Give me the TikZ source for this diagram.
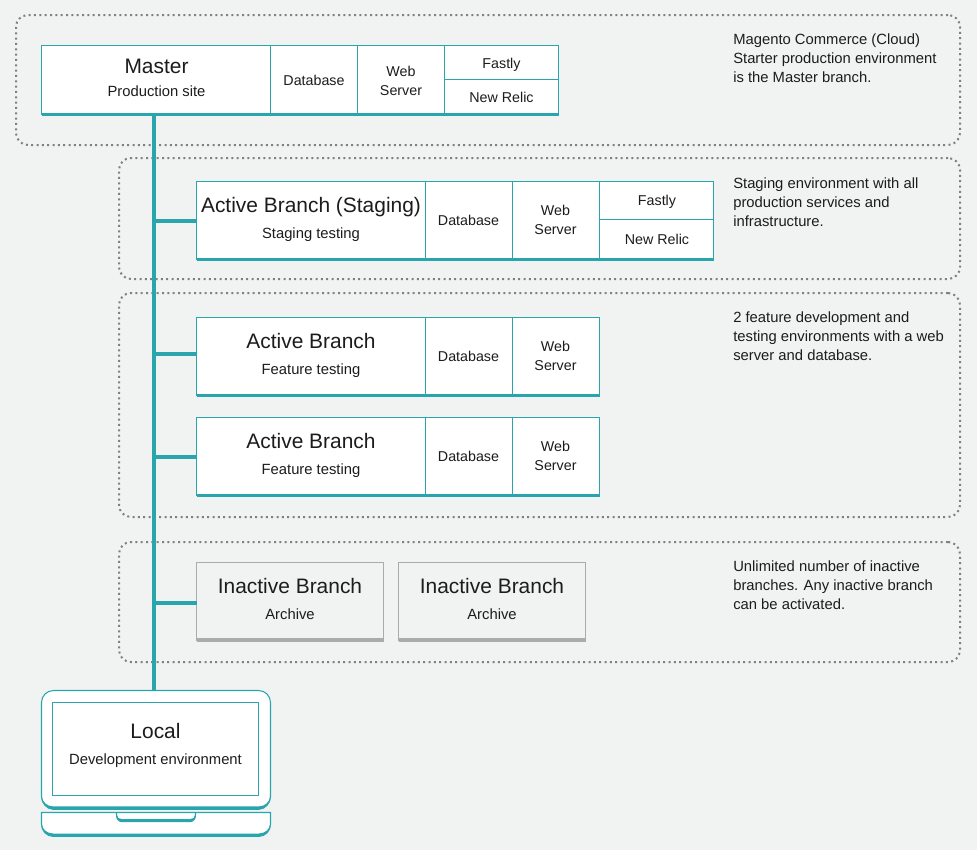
\documentclass[tikz,border=0pt]{standalone}
\usepackage{fontspec}
\setmainfont{Liberation Sans}
\definecolor{bgc}{HTML}{F1F3F2}
\definecolor{tealc}{HTML}{28A5AD}
\definecolor{grayb}{HTML}{ABABAB}
\definecolor{dotc}{HTML}{808080}
\definecolor{txt}{HTML}{1C1C1C}
\newcommand{\cellbox}[6][cell]{%
  \pgfmathsetmacro{\cw}{(#5-#3)*0.75}\pgfmathsetmacro{\ch}{(#6-#4)*0.75}%
  \node[#1,minimum width=\cw pt,minimum height=\ch pt] (#2) at ({(#3+#5)/2},{(#4+#6)/2}) {};}
\tikzset{
  x=0.75pt,y=-0.75pt,
  cell/.style={draw=tealc,fill=white,line width=0.8pt,inner sep=0pt,outer sep=0pt},
  graycell/.style={draw=grayb,fill=bgc,line width=0.8pt,inner sep=0pt,outer sep=0pt},
  group/.style={draw=dotc,line width=1.5pt,rounded corners=9pt,dash pattern=on 1.5pt off 2.5pt,inner sep=0pt},
  trunk/.style={draw=tealc,line width=3pt},
  branch/.style={draw=tealc,line width=3pt},
  bar/.style={draw=tealc,line width=2.6pt},
  graybar/.style={draw=grayb,line width=2.6pt},
  title/.style={font=\fontsize{15.7pt}{18pt}\selectfont,text=txt,inner sep=0pt,anchor=base},
  sub/.style={font=\fontsize{11.1pt}{13pt}\selectfont,text=txt,inner sep=0pt,anchor=base},
  lab/.style={font=\fontsize{10.7pt}{14.3pt}\selectfont,text=txt,inner sep=0pt,anchor=base},
  labs/.style={font=\fontsize{10.7pt}{14.3pt}\selectfont,text=txt,inner sep=0pt,align=center},
  note/.style={font=\fontsize{11.1pt}{14.25pt}\selectfont,text=txt,inner sep=0pt,align=left,anchor=north west},
  thick part/.style={fill=tealc,draw=none},
}
\begin{document}
\begin{tikzpicture}
\useasboundingbox[fill=bgc] (0,0) rectangle (977,850);
% groups
\node[group,minimum width=708pt,minimum height=97.5pt] (g1) at (488,80) {};
\node[group,minimum width=630.75pt,minimum height=90.75pt] (g2) at (539.5,218.5) {};
\node[group,minimum width=630.75pt,minimum height=168pt] (g3) at (539.5,405) {};
\node[group,minimum width=630.75pt,minimum height=90pt] (g4) at (539.5,602) {};
% laptop
\cellbox[cell,rounded corners=9pt]{laptop}{41.5}{690.5}{270.5}{808.5}
\fill[thick part] (41,796) .. controls (41,803) and (46.4,809.8) .. (53,809.8) -- (259,809.8) .. controls (265.6,809.8) and (271,803) .. (271,796) -- (270.2,796) .. controls (270.2,801.5) and (265,806.4) .. (259,806.4) -- (53,806.4) .. controls (47,806.4) and (41.8,801.5) .. (41.8,796) -- cycle;
\filldraw[tealc,fill=white,line width=0.8pt] (41.5,812.5) -- (270.5,812.5) -- (270.5,824) .. controls (270.5,830.5) and (265,835.5) .. (259,835.5) -- (53,835.5) .. controls (47,835.5) and (41.5,830.5) .. (41.5,824) -- cycle;
\fill[thick part] (41,824) .. controls (41,831) and (46.4,836.9) .. (53,836.9) -- (259,836.9) .. controls (265.6,836.9) and (271,831) .. (271,824) -- (270.2,824) .. controls (270.2,829) and (265,833.5) .. (259,833.5) -- (53,833.5) .. controls (47,833.5) and (41.8,829) .. (41.8,824) -- cycle;
\draw[tealc,line width=0.8pt] (116.5,812.5) -- (116.5,815) .. controls (116.5,819) and (119,821) .. (122,821) -- (190,821) .. controls (193,821) and (195.5,819) .. (195.5,815) -- (195.5,812.5);
\fill[thick part] (116.2,815) .. controls (116.2,820) and (119,822.2) .. (122,822.2) -- (190,822.2) .. controls (193,822.2) and (195.8,820) .. (195.8,815) -- (195,815) .. controls (195,818) and (193,819) .. (190,819) -- (122,819) .. controls (119,819) and (117,818) .. (117,815) -- cycle;
\cellbox{screen}{52.5}{702.5}{258.5}{795.5}
% master row
\cellbox{master}{41.5}{45.5}{270.5}{114.5}
\cellbox{mdb}{270.5}{45.5}{357.5}{114.5}
\cellbox{mweb}{357.5}{45.5}{444.5}{114.5}
\cellbox{mfast}{444.5}{45.5}{558.5}{79.5}
\cellbox{mrelic}{444.5}{79.5}{558.5}{114.5}
\draw[bar] (master.south west) -- (mrelic.south east);
% staging row
\cellbox{stag}{196.5}{181.5}{425.5}{259.5}
\cellbox{sdb}{425.5}{181.5}{512.5}{259.5}
\cellbox{sweb}{512.5}{181.5}{599.5}{259.5}
\cellbox{sfast}{599.5}{181.5}{713.5}{219.5}
\cellbox{srelic}{599.5}{219.5}{713.5}{259.5}
\draw[bar] (stag.south west) -- (srelic.south east);
% feature rows
\cellbox{fa}{196.5}{317.5}{425.5}{395.5}
\cellbox{fadb}{425.5}{317.5}{512.5}{395.5}
\cellbox{faweb}{512.5}{317.5}{599.5}{395.5}
\draw[bar] (fa.south west) -- (faweb.south east);
\cellbox{fb}{196.5}{417.5}{425.5}{495.5}
\cellbox{fbdb}{425.5}{417.5}{512.5}{495.5}
\cellbox{fbweb}{512.5}{417.5}{599.5}{495.5}
\draw[bar] (fb.south west) -- (fbweb.south east);
% inactive
\cellbox[graycell]{ia}{196.5}{562.5}{383.5}{640}
\cellbox[graycell]{ib}{398.5}{562.5}{585.5}{640}
\draw[graybar] (ia.south west) -- (ia.south east);
\draw[graybar] (ib.south west) -- (ib.south east);
% connectors
\coordinate (t0) at (154,115);
\coordinate (t1) at (154,220.5);
\coordinate (t2) at (154,354);
\coordinate (t3) at (154,457);
\coordinate (t4) at (154,602.5);
\draw[trunk] (t0) -- (t0 |- laptop.north);
\draw[branch] (t1) -- (t1 -| stag.west);
\draw[branch] (t2) -- (t2 -| fa.west);
\draw[branch] (t3) -- (t3 -| fb.west);
\draw[branch] (t4) -- (t4 -| ia.west);
% texts
\node[title] (tm) at (156.5,73) {Master};
\node[sub] (sm) at (156.5,96) {Production site};
\node[lab] (lmd) at (314,85) {Database};
\node[labs] (lmw) at (401,80.5) {Web\\Server};
\node[lab] (lmf) at (501.5,68) {Fastly};
\node[lab] (lmr) at (501.5,102) {New Relic};
\node[title] (ts) at (311,212) {Active Branch (Staging)};
\node[sub] (ss) at (311,238) {Staging testing};
\node[lab] (lsd) at (468.5,225) {Database};
\node[labs] (lsw) at (555.5,220) {Web\\Server};
\node[lab] (lsf) at (657,205.5) {Fastly};
\node[lab] (lsr) at (657,244) {New Relic};
\node[title] (tfa) at (311,348) {Active Branch};
\node[sub] (sfa) at (311,374) {Feature testing};
\node[lab] (lfad) at (468.5,361) {Database};
\node[labs] (lfaw) at (555.5,356) {Web\\Server};
\node[title] (tfb) at (311,448) {Active Branch};
\node[sub] (sfb) at (311,474) {Feature testing};
\node[lab] (lfbd) at (468.5,461) {Database};
\node[labs] (lfbw) at (555.5,456) {Web\\Server};
\node[title] (tia) at (290,593) {Inactive Branch};
\node[sub] (sia) at (290,619) {Archive};
\node[title] (tib) at (492,593) {Inactive Branch};
\node[sub] (sib) at (492,619) {Archive};
\node[title] (tl) at (155.5,738) {Local};
\node[sub] (sl) at (155.5,764) {Development environment};
\node[note] (n1) at (733,33.5) {Magento Commerce (Cloud)\\Starter production environment\\is the Master branch.};
\node[note] (n2) at (733,177.5) {Staging environment with all\\production services and\\infrastructure.};
\node[note] (n3) at (733,311.5) {2 feature development and\\testing environments with a web\\server and database.};
\node[note] (n4) at (733,560.5) {Unlimited number of inactive\\branches. Any inactive branch\\can be activated.};
\end{tikzpicture}
\end{document}
